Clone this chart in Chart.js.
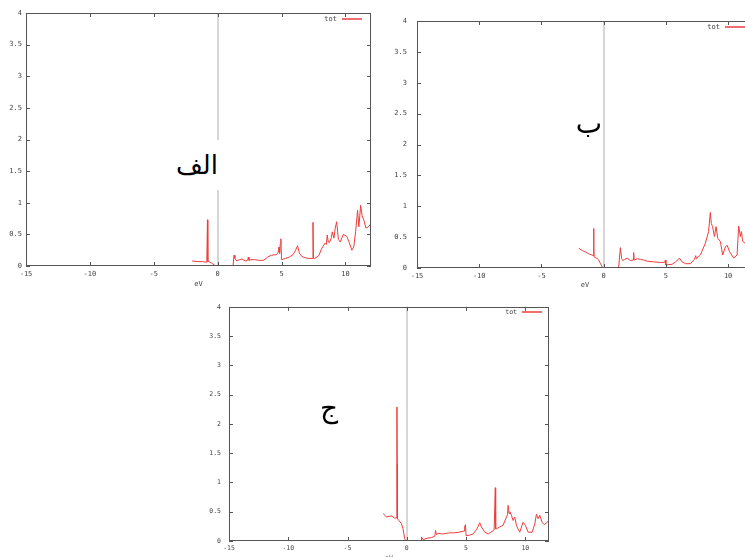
<!DOCTYPE html>
<html><head><meta charset="utf-8">
<script src="https://cdn.jsdelivr.net/npm/chart.js@4.4.1/dist/chart.umd.min.js"></script>
<style>
html,body{margin:0;padding:0;background:#fff;overflow:hidden;width:745px;height:557px;position:relative}
canvas{position:absolute}
.lbl{position:absolute;font-family:"DejaVu Sans",sans-serif;color:#000;white-space:nowrap;text-align:right}
</style></head><body>
<canvas id="cA" width="380" height="295" style="left:0;top:0"></canvas>
<canvas id="cB" width="380" height="295" style="left:380px;top:0"></canvas>
<canvas id="cC" width="370" height="275" style="left:190px;top:295px"></canvas>
<div class="lbl" style="left:170px;top:140px;width:48px;height:50px;line-height:50px;font-size:26px;background:#fff;padding-right:3px">الف</div>
<div class="lbl" style="left:560px;top:108px;width:42px;height:32px;line-height:32px;font-size:28px">ب</div>
<div class="lbl" style="left:300px;top:392px;width:38px;height:32px;line-height:32px;font-size:28px">ج</div>
<script>
// ---- data ----
const energyAlf = [-2.0,-1.6,-1.2,-0.85,-0.8,-0.78,-0.76,-0.7,-0.5,-0.3,-0.15,0,1.2,1.28,1.35,1.5,1.7,1.9,2.15,2.35,2.4,2.45,2.6,2.9,3.2,3.6,3.9,4.2,4.6,4.75,4.8,4.85,4.9,4.95,5.0,5.3,5.6,5.9,6.1,6.25,6.4,6.6,6.85,7.1,7.4,7.46,7.5,7.6,7.9,8.15,8.4,8.5,8.58,8.65,8.75,8.9,8.97,9.1,9.2,9.31,9.45,9.6,9.83,10.1,10.3,10.5,10.65,10.8,10.95,11.05,11.19,11.3,11.45,11.6,11.8,12.0];
const dosAlf    = [0.08,0.07,0.07,0.06,0.73,0.38,0.07,0.07,0.05,0.02,0.0,0,0,0.17,0.12,0.08,0.1,0.11,0.08,0.09,0.14,0.09,0.1,0.1,0.09,0.09,0.14,0.17,0.18,0.22,0.3,0.2,0.35,0.43,0.1,0.12,0.14,0.18,0.25,0.32,0.2,0.15,0.13,0.12,0.12,0.69,0.12,0.12,0.16,0.28,0.36,0.34,0.49,0.38,0.37,0.45,0.54,0.44,0.6,0.7,0.42,0.38,0.5,0.47,0.37,0.25,0.3,0.55,0.88,0.62,0.96,0.8,0.72,0.6,0.62,0.67];

const energyBa = [-2.0,-1.7,-1.47,-1.2,-0.94,-0.82,-0.8,-0.79,-0.77,-0.67,-0.5,-0.4,-0.25,-0.08,1.2,1.34,1.45,1.53,1.7,1.88,2.14,2.38,2.41,2.45,2.7,2.95,3.2,3.49,4.0,4.56,4.9,4.96,5.0,5.5,5.8,6.08,6.3,6.57,6.97,7.3,7.4,7.45,7.77,8.17,8.43,8.57,8.65,8.75,8.9,9.03,9.17,9.38,9.56,9.78,9.92,10.1,10.45,10.72,10.85,10.99,11.07,11.17,11.38,11.6,11.8,12.0];
const dosBa    = [0.32,0.28,0.26,0.23,0.21,0.2,0.64,0.4,0.18,0.17,0.15,0.13,0.07,0.0,0,0.33,0.15,0.12,0.14,0.16,0.12,0.13,0.25,0.13,0.15,0.14,0.13,0.11,0.1,0.09,0.09,0.13,0.05,0.06,0.1,0.16,0.1,0.07,0.07,0.14,0.2,0.15,0.21,0.4,0.59,0.9,0.72,0.67,0.51,0.67,0.48,0.43,0.21,0.34,0.37,0.27,0.16,0.21,0.68,0.51,0.59,0.43,0.4,0.36,0.4,0.42];

const energyJim = [-2.0,-1.85,-1.72,-1.5,-1.3,-1.01,-0.84,-0.83,-0.81,-0.79,-0.66,-0.46,-0.32,-0.17,-0.08,1.2,1.24,1.38,1.6,1.8,2.1,2.36,2.43,2.5,2.64,3.0,3.3,3.63,4.05,4.4,4.84,4.88,4.95,5.0,5.3,5.6,5.9,6.16,6.3,6.58,6.86,7.1,7.37,7.47,7.5,7.56,7.85,8.13,8.41,8.5,8.55,8.63,8.7,8.83,8.97,9.11,9.25,9.4,9.53,9.81,10.0,10.24,10.58,10.8,10.94,11.08,11.22,11.42,11.6,11.78,12.0];
const dosJim    = [0.47,0.44,0.41,0.42,0.43,0.39,0.4,2.29,1.32,0.38,0.35,0.3,0.21,0.04,0.0,0,0.07,0.02,0.04,0.05,0.06,0.08,0.18,0.11,0.13,0.12,0.13,0.14,0.14,0.15,0.17,0.24,0.28,0.09,0.1,0.12,0.2,0.31,0.24,0.15,0.12,0.15,0.19,0.91,0.21,0.21,0.24,0.27,0.41,0.45,0.61,0.47,0.5,0.44,0.35,0.41,0.27,0.2,0.15,0.32,0.27,0.15,0.15,0.29,0.46,0.38,0.44,0.32,0.28,0.31,0.35];

const xTickValues = [-15,-10,-5,0,5,10];
const yTickValues = [0,0.5,1,1.5,2,2.5,3,3.5,4];
const seriesName = 'tot';
const xTitle = 'eV';

// gnuplot-like frame with inward ticks on all four sides
const framePlugin = {
  id: 'gpFrame',
  afterDatasetsDraw(chart) {
    const {ctx, chartArea: a, scales: {x, y}} = chart;
    ctx.save();
    ctx.strokeStyle = '#555';
    ctx.lineWidth = 1;
    ctx.strokeRect(Math.round(a.left) + 0.5, Math.round(a.top) + 0.5, Math.round(a.right - a.left) - 1, Math.round(a.bottom - a.top) - 1);
    ctx.beginPath();
    x.ticks.forEach(t => {
      const px = Math.round(x.getPixelForValue(t.value)) + 0.5;
      ctx.moveTo(px, a.bottom); ctx.lineTo(px, a.bottom - 4);
      ctx.moveTo(px, a.top); ctx.lineTo(px, a.top + 4);
    });
    y.ticks.forEach(t => {
      const py = Math.round(y.getPixelForValue(t.value)) + 0.5;
      ctx.moveTo(a.left, py); ctx.lineTo(a.left + 4, py);
      ctx.moveTo(a.right, py); ctx.lineTo(a.right - 4, py);
    });
    ctx.stroke();
    ctx.restore();
  }
};

// gnuplot-style key in the top-right corner: label text, then a line sample
const keyPlugin = {
  id: 'gpKey',
  afterDatasetsDraw(chart, args, o) {
    const {ctx, chartArea: a} = chart;
    const ds = chart.data.datasets[0];
    const yk = Math.round(a.top + o.dy);
    const x2 = a.right - o.dx, x1 = x2 - o.len;
    ctx.save();
    ctx.strokeStyle = ds.borderColor; ctx.lineWidth = 1.5;
    ctx.beginPath(); ctx.moveTo(x1, yk); ctx.lineTo(x2, yk); ctx.stroke();
    ctx.fillStyle = '#444';
    ctx.font = o.fs + 'px "DejaVu Sans Mono"';
    ctx.textAlign = 'right'; ctx.textBaseline = 'middle';
    ctx.fillText(ds.label, x1 - o.gap, yk);
    ctx.restore();
  }
};

function makePanel(id, energy, dos, g) {
  const pts = energy.map((e, i) => ({x: e, y: dos[i]}));
  const font = {family: 'DejaVu Sans Mono', size: g.fs};
  new Chart(document.getElementById(id), {
    type: 'line',
    data: {datasets: [{label: seriesName, data: pts, borderColor: '#f03c3c', backgroundColor: '#f03c3c',
      borderWidth: 1, pointRadius: 0, tension: 0, fill: false}]},
    options: {
      responsive: false, animation: false,
      layout: {padding: {top: g.top, right: g.right, left: 0, bottom: 0}},
      scales: {
        x: {type: 'linear', min: -15, max: 12,
          afterBuildTicks: s => { s.ticks = xTickValues.map(v => ({value: v})); },
          afterFit: s => { s.height = g.xh; },
          grid: {drawTicks: false, color: c => (c.tick && c.tick.value === 0) ? '#d6d6d6' : 'rgba(0,0,0,0)', lineWidth: 2},
          border: {display: false},
          ticks: {font, color: '#444', padding: g.xpad, maxRotation: 0, autoSkip: false, callback: v => String(v)},
          title: {display: true, text: xTitle, font, color: '#444', padding: {top: 0, bottom: g.tpad}}
        },
        y: {type: 'linear', min: 0, max: 4,
          afterBuildTicks: s => { s.ticks = yTickValues.map(v => ({value: v})); },
          afterFit: s => { s.width = g.yw; },
          grid: {drawTicks: false, color: 'rgba(0,0,0,0)'},
          border: {display: false},
          ticks: {font, color: '#444', padding: g.ypad, autoSkip: false, callback: v => String(v)}
        }
      },
      plugins: {
        legend: {display: false},
        tooltip: {enabled: false},
        gpKey: {dx: g.kdx, dy: g.kdy, len: 20, gap: 5, fs: g.fs}
      }
    },
    plugins: [framePlugin, keyPlugin]
  });
}

makePanel('cA', energyAlf, dosAlf, {top: 13, right: 9, xh: 29, yw: 26, fs: 7, xpad: 4, ypad: 4, tpad: 7, kdx: 9, kdy: 6});
makePanel('cB', energyBa, dosBa, {top: 21, right: 7, xh: 27, yw: 37, fs: 7, xpad: 4, ypad: 10, tpad: 6, kdx: 8, kdy: 6});
makePanel('cC', energyJim, dosJim, {top: 11, right: 11, xh: 29, yw: 39, fs: 6.5, xpad: 3, ypad: 8, tpad: 8, kdx: 7, kdy: 5});
</script>
</body></html>
